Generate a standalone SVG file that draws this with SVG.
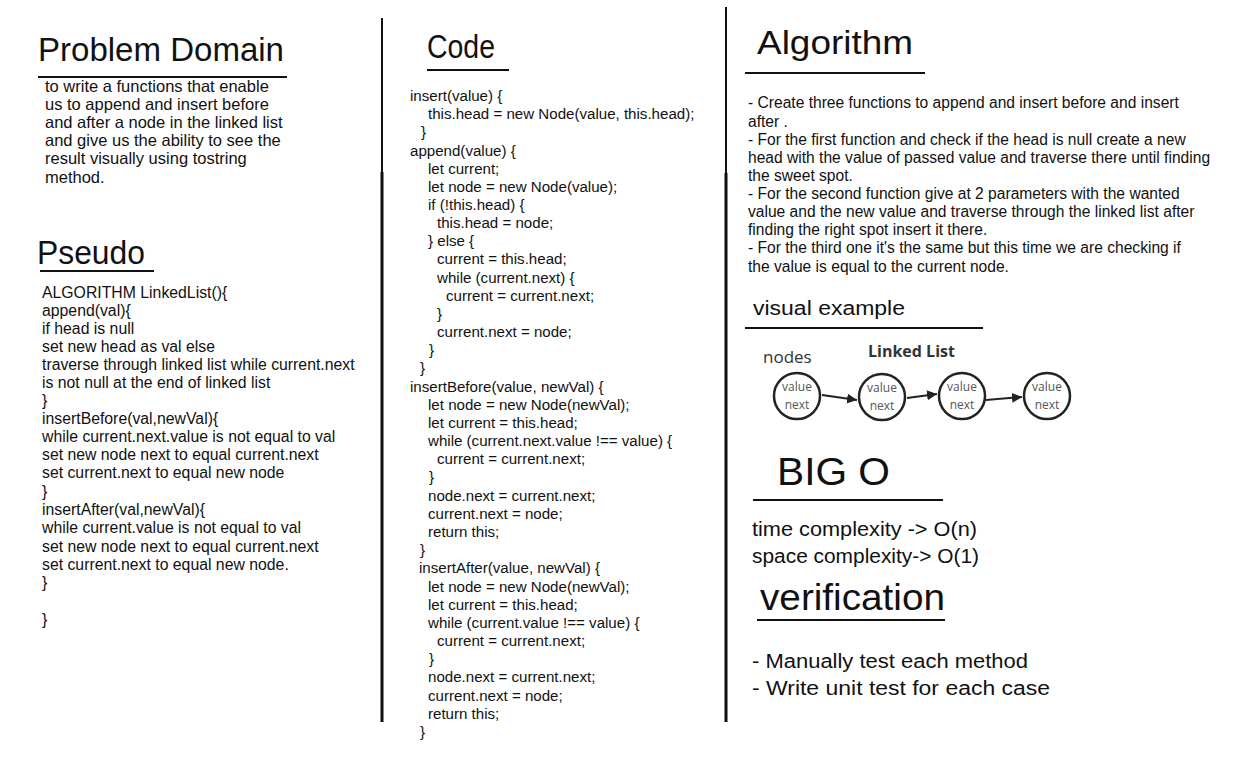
<svg xmlns="http://www.w3.org/2000/svg" width="1244" height="783" viewBox="0 0 1244 783">
<defs>
<style>
.t{font-family:"Liberation Sans",Arial,sans-serif;fill:#111;}
.h{font-size:34px;}
.pd{font-size:16.5px;}
.ps{font-size:15.8px;}
.cd{font-size:15.1px;}
.al{font-size:15.6px;}
.m{font-size:20px;}
.rule{stroke:#111;stroke-width:2;}
.ll{font-family:"Open Sans","Liberation Sans",sans-serif;}
.nd{fill:#fff;stroke:#222;stroke-width:2.5;}
.nt{font-family:"Open Sans","Liberation Sans",sans-serif;font-size:12px;fill:#555;text-anchor:middle;}
.ar{stroke:#222;stroke-width:2;fill:none;}
</style>
<marker id="ah" viewBox="0 0 10 10" refX="10" refY="5" markerWidth="5" markerHeight="5" orient="auto" markerUnits="strokeWidth">
<path d="M0,0 L10,5 L0,10 z" fill="#222"/>
</marker>
</defs>
<rect width="1244" height="783" fill="#fff"/>

<g id="dividers">
<line x1="382" y1="18" x2="382" y2="172" stroke="#111" stroke-width="2"/>
<line x1="382" y1="172" x2="382" y2="722" stroke="#111" stroke-width="3"/>
<line x1="726" y1="7" x2="726" y2="173" stroke="#111" stroke-width="2"/>
<line x1="726" y1="173" x2="726" y2="722" stroke="#111" stroke-width="3"/>
</g>

<g id="problem-domain">
<text class="t h" x="38" y="61" textLength="246" lengthAdjust="spacingAndGlyphs">Problem Domain</text>
<line class="rule" x1="38" y1="77" x2="287" y2="77"/>
<text class="t pd">
<tspan x="45" y="92">to write a functions that enable</tspan>
<tspan x="45" y="110">us to append and insert before</tspan>
<tspan x="45" y="128">and after a node in the linked list</tspan>
<tspan x="45" y="146">and give us the ability to see the</tspan>
<tspan x="45" y="164">result visually using tostring</tspan>
<tspan x="45" y="183">method.</tspan>
</text>
</g>

<g id="pseudo">
<text class="t h" x="37" y="264" textLength="108" lengthAdjust="spacingAndGlyphs">Pseudo</text>
<line class="rule" x1="40" y1="271" x2="154" y2="271"/>
<text class="t ps">
<tspan x="42" y="298">ALGORITHM LinkedList(){</tspan>
<tspan x="42" y="316">append(val){</tspan>
<tspan x="42" y="334">if head is null</tspan>
<tspan x="42" y="352">set new head as val else</tspan>
<tspan x="42" y="370">traverse through linked list while current.next</tspan>
<tspan x="42" y="388">is not null at the end of linked list</tspan>
<tspan x="42" y="406">}</tspan>
<tspan x="42" y="424">insertBefore(val,newVal){</tspan>
<tspan x="42" y="442">while current.next.value is not equal to val</tspan>
<tspan x="42" y="460">set new node next to equal current.next</tspan>
<tspan x="42" y="478">set current.next to equal new node</tspan>
<tspan x="42" y="497">}</tspan>
<tspan x="42" y="515">insertAfter(val,newVal){</tspan>
<tspan x="42" y="533">while current.value is not equal to val</tspan>
<tspan x="42" y="552">set new node next to equal current.next</tspan>
<tspan x="42" y="570">set current.next to equal new node.</tspan>
<tspan x="42" y="588">}</tspan>
<tspan x="42" y="625">}</tspan>
</text>
</g>

<g id="code">
<text class="t h" x="427" y="58" textLength="68" lengthAdjust="spacingAndGlyphs">Code</text>
<line class="rule" x1="427" y1="70" x2="509" y2="70"/>
<text class="t cd">
<tspan x="410" y="101">insert(value) {</tspan>
<tspan x="428" y="119">this.head = new Node(value, this.head);</tspan>
<tspan x="421" y="137">}</tspan>
<tspan x="410" y="156">append(value) {</tspan>
<tspan x="428" y="174">let current;</tspan>
<tspan x="428" y="192">let node = new Node(value);</tspan>
<tspan x="428" y="210">if (!this.head) {</tspan>
<tspan x="437" y="228">this.head = node;</tspan>
<tspan x="428" y="246">} else {</tspan>
<tspan x="437" y="264">current = this.head;</tspan>
<tspan x="437" y="283">while (current.next) {</tspan>
<tspan x="446" y="301">current = current.next;</tspan>
<tspan x="437" y="319">}</tspan>
<tspan x="437" y="337">current.next = node;</tspan>
<tspan x="429" y="355">}</tspan>
<tspan x="420" y="373">}</tspan>
<tspan x="410" y="392">insertBefore(value, newVal) {</tspan>
<tspan x="428" y="410">let node = new Node(newVal);</tspan>
<tspan x="428" y="428">let current = this.head;</tspan>
<tspan x="428" y="446">while (current.next.value !== value) {</tspan>
<tspan x="437" y="464">current = current.next;</tspan>
<tspan x="429" y="482">}</tspan>
<tspan x="428" y="501">node.next = current.next;</tspan>
<tspan x="428" y="519">current.next = node;</tspan>
<tspan x="428" y="537">return this;</tspan>
<tspan x="420" y="555">}</tspan>
<tspan x="419" y="573">insertAfter(value, newVal) {</tspan>
<tspan x="428" y="592">let node = new Node(newVal);</tspan>
<tspan x="428" y="610">let current = this.head;</tspan>
<tspan x="428" y="628">while (current.value !== value) {</tspan>
<tspan x="437" y="646">current = current.next;</tspan>
<tspan x="429" y="664">}</tspan>
<tspan x="428" y="682">node.next = current.next;</tspan>
<tspan x="428" y="701">current.next = node;</tspan>
<tspan x="428" y="719">return this;</tspan>
<tspan x="420" y="737">}</tspan>
</text>
</g>

<g id="algorithm">
<text class="t h" x="757" y="54" textLength="156" lengthAdjust="spacingAndGlyphs">Algorithm</text>
<line class="rule" x1="745" y1="73" x2="925" y2="73"/>
<text class="t al">
<tspan x="748" y="108">- Create three functions to append and insert before and insert</tspan>
<tspan x="748" y="127">after .</tspan>
<tspan x="748" y="145">-  For the first function and check if the head is null create a new</tspan>
<tspan x="748" y="163">head with the value of passed value and traverse there until finding</tspan>
<tspan x="748" y="181">the sweet spot.</tspan>
<tspan x="748" y="199">- For the second function give at 2 parameters with the wanted</tspan>
<tspan x="748" y="217">value and the new value and traverse through the linked list after</tspan>
<tspan x="748" y="235">finding the right spot insert it there.</tspan>
<tspan x="748" y="253">- For the third one it's the same but this time we are checking if</tspan>
<tspan x="748" y="272">the value is equal to the current node.</tspan>
</text>
</g>

<g id="visual-example">
<text class="t m" x="753" y="315" textLength="152" lengthAdjust="spacingAndGlyphs">visual example</text>
<line class="rule" x1="745" y1="328" x2="983" y2="328"/>
<text class="ll" x="763" y="363" font-size="17" fill="#333">nodes</text>
<text class="ll" x="868" y="357" font-size="16" font-weight="bold" fill="#333">Linked List</text>
<g id="node1"><circle class="nd" cx="797" cy="396" r="23"/><text class="nt" x="797" y="391">value</text><text class="nt" x="797" y="409">next</text></g>
<g id="node2"><circle class="nd" cx="882" cy="397" r="23"/><text class="nt" x="882" y="392">value</text><text class="nt" x="882" y="410">next</text></g>
<g id="node3"><circle class="nd" cx="962" cy="396" r="23"/><text class="nt" x="962" y="391">value</text><text class="nt" x="962" y="409">next</text></g>
<g id="node4"><circle class="nd" cx="1047" cy="396" r="23"/><text class="nt" x="1047" y="391">value</text><text class="nt" x="1047" y="409">next</text></g>
<g id="connectors">
<line class="ar" x1="822" y1="395" x2="857" y2="400" marker-end="url(#ah)"/>
<line class="ar" x1="907" y1="398" x2="937" y2="394" marker-end="url(#ah)"/>
<line class="ar" x1="986" y1="400" x2="1022" y2="397" marker-end="url(#ah)"/>
</g>
</g>

<g id="big-o">
<text class="t" x="777" y="485" font-size="38" textLength="113" lengthAdjust="spacingAndGlyphs">BIG O</text>
<line class="rule" x1="753" y1="500" x2="943" y2="500"/>
<text class="t m" x="752" y="536" textLength="225" lengthAdjust="spacingAndGlyphs">time complexity -&gt; O(n)</text>
<text class="t m" x="752" y="563" textLength="227" lengthAdjust="spacingAndGlyphs">space complexity-&gt; O(1)</text>
</g>

<g id="verification">
<text class="t" x="760" y="610" font-size="36" textLength="185" lengthAdjust="spacingAndGlyphs">verification</text>
<line class="rule" x1="757" y1="620" x2="945" y2="620"/>
<text class="t m" x="752" y="668" textLength="276" lengthAdjust="spacingAndGlyphs">- Manually test each method</text>
<text class="t m" x="752" y="695" textLength="298" lengthAdjust="spacingAndGlyphs">- Write unit test for each case</text>
</g>
</svg>
